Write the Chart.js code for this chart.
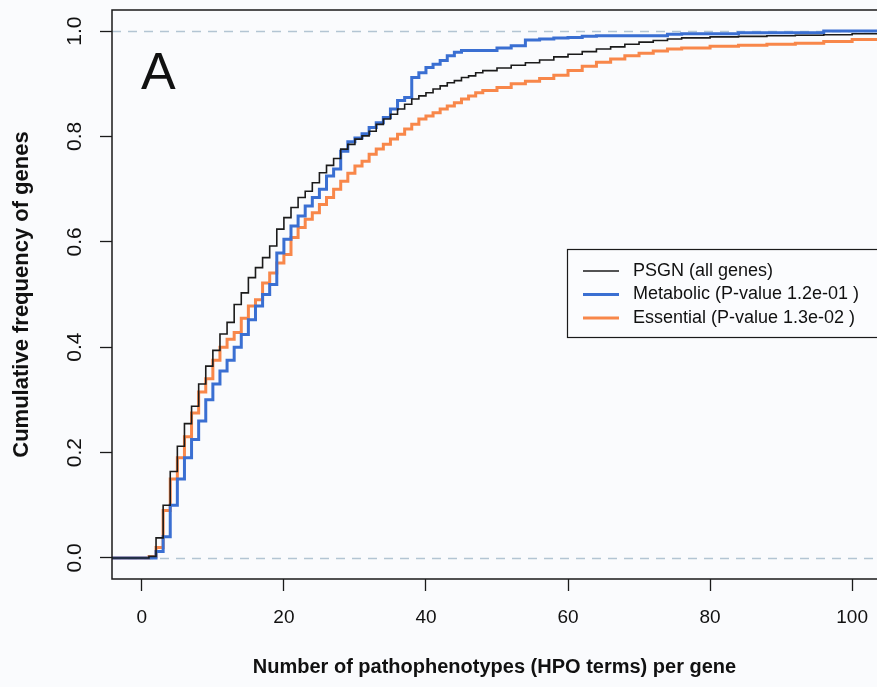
<!DOCTYPE html>
<html>
<head>
<meta charset="utf-8">
<script src="https://cdn.jsdelivr.net/npm/chart.js@4.4.0/dist/chart.umd.min.js"></script>
<style>
  html, body { margin: 0; padding: 0; background: #fafbfd; }
  canvas { display: block; }
</style>
</head>
<body>
<canvas id="ecdfChart" width="877" height="687"></canvas>
<script>
// Number of HPO terms per gene (x) and cumulative frequency of genes for each group
const terms = [-5,
  0, 1, 2, 3, 4, 5, 6, 7, 8, 9,
  10, 11, 12, 13, 14, 15, 16, 17, 18, 19,
  20, 21, 22, 23, 24, 25, 26, 27, 28, 29,
  30, 31, 32, 33, 34, 35, 36, 37, 38, 39,
  40, 41, 42, 43, 44, 45, 46, 47, 48,
  50, 52, 54, 56, 58, 60, 62, 64, 66, 68, 70, 72, 74, 76,
  80, 84, 88, 92, 96, 100, 104];

const psgn = [0,
  0, 0.003, 0.038, 0.10, 0.164, 0.212, 0.255, 0.288, 0.33, 0.364,
  0.394, 0.425, 0.447, 0.481, 0.503, 0.532, 0.551, 0.57, 0.592, 0.624,
  0.646, 0.665, 0.684, 0.696, 0.712, 0.731, 0.745, 0.758, 0.776, 0.785,
  0.795, 0.801, 0.81, 0.823, 0.833, 0.842, 0.852, 0.861, 0.871, 0.877,
  0.883, 0.89, 0.896, 0.902, 0.906, 0.912, 0.915, 0.921, 0.925,
  0.93, 0.935, 0.94, 0.945, 0.951, 0.956, 0.961, 0.966, 0.97, 0.975, 0.979, 0.982, 0.985, 0.987,
  0.989, 0.99, 0.991, 0.992, 0.993, 0.995, 0.997];

const metabolic = [0,
  0, 0, 0.012, 0.04, 0.10, 0.15, 0.19, 0.225, 0.26, 0.30,
  0.33, 0.355, 0.375, 0.40, 0.424, 0.452, 0.478, 0.50, 0.519, 0.579,
  0.605, 0.63, 0.649, 0.668, 0.684, 0.70, 0.725, 0.738, 0.772, 0.79,
  0.797, 0.805, 0.817, 0.826, 0.836, 0.852, 0.868, 0.874, 0.912, 0.921,
  0.931, 0.937, 0.944, 0.953, 0.96, 0.963, 0.963, 0.963, 0.963,
  0.968, 0.972, 0.983, 0.985, 0.987, 0.988, 0.99, 0.991, 0.991, 0.991, 0.991, 0.991, 0.994, 0.995,
  0.995, 0.997, 0.997, 0.997, 1, 1, 1];

const essential = [0,
  0, 0.002, 0.02, 0.09, 0.15, 0.19, 0.23, 0.275, 0.315, 0.34,
  0.375, 0.40, 0.415, 0.428, 0.455, 0.478, 0.49, 0.522, 0.541, 0.56,
  0.576, 0.608, 0.627, 0.643, 0.655, 0.671, 0.684, 0.70, 0.715, 0.73,
  0.744, 0.753, 0.766, 0.776, 0.785, 0.795, 0.804, 0.814, 0.823, 0.833,
  0.839, 0.845, 0.852, 0.858, 0.864, 0.871, 0.877, 0.883, 0.887,
  0.893, 0.9, 0.905, 0.91, 0.916, 0.925, 0.933, 0.941, 0.947, 0.953, 0.958, 0.962, 0.966, 0.968,
  0.971, 0.973, 0.975, 0.977, 0.98, 0.984, 0.989];

const seriesNames = ['PSGN (all genes)', 'Metabolic (P-value 1.2e-01 )', 'Essential (P-value 1.3e-02 )'];
const xTicks = [0, 20, 40, 60, 80, 100];
const yTicks = [0, 0.2, 0.4, 0.6, 0.8, 1.0];
const refLines = [0, 1];

const FONT = "'Liberation Sans', Arial, Helvetica, sans-serif";
const toPoints = ys => terms.map((x, i) => ({ x: x, y: ys[i] }));

// caixa do gráfico, linhas tracejadas, legenda e letra do painel
const decorations = {
  id: 'decorations',
  beforeDatasetsDraw(chart) {
    const { ctx, chartArea: a, scales: { y } } = chart;
    ctx.save();
    ctx.strokeStyle = '#b3c5d3';
    ctx.lineWidth = 1.3;
    ctx.setLineDash([9, 7]);
    refLines.forEach(v => {
      const py = Math.round(y.getPixelForValue(v)) + 0.5;
      ctx.beginPath();
      ctx.moveTo(a.left, py);
      ctx.lineTo(a.right, py);
      ctx.stroke();
    });
    ctx.restore();
  },
  afterDatasetsDraw(chart) {
    const { ctx, chartArea: a } = chart;
    ctx.save();
    // box (right side is cut off in the original)
    ctx.strokeStyle = '#1a1a1a';
    ctx.lineWidth = 1.5;
    ctx.beginPath();
    ctx.moveTo(a.right + 5, a.top);
    ctx.lineTo(a.left, a.top);
    ctx.lineTo(a.left, a.bottom);
    ctx.lineTo(a.right + 5, a.bottom);
    ctx.stroke();

    // panel letter
    ctx.fillStyle = '#111';
    ctx.font = '52px ' + FONT;
    ctx.textBaseline = 'alphabetic';
    ctx.fillText('A', 141, 89);

    // legend
    const lx = 567, ly = 249;
    ctx.fillStyle = '#fbfcfe';
    ctx.fillRect(lx, ly, 330, 88);
    ctx.lineWidth = 1.2;
    ctx.strokeStyle = '#1a1a1a';
    ctx.strokeRect(lx + 0.5, ly + 0.5, 330, 88);
    ctx.font = '18px ' + FONT;
    ctx.textBaseline = 'middle';
    chart.data.datasets.forEach((ds, i) => {
      const ry = ly + 22 + i * 23.5;
      ctx.strokeStyle = ds.borderColor;
      ctx.lineWidth = ds.borderWidth;
      ctx.beginPath();
      ctx.moveTo(lx + 16, ry);
      ctx.lineTo(lx + 52, ry);
      ctx.stroke();
      ctx.fillStyle = '#111';
      ctx.fillText(ds.label, lx + 66, ry);
    });
    ctx.restore();
  }
};

const ctx = document.getElementById('ecdfChart').getContext('2d');
new Chart(ctx, {
  type: 'line',
  data: {
    datasets: [
      { label: seriesNames[0], data: toPoints(psgn), borderColor: '#1b1b1b', borderWidth: 1.6 },
      { label: seriesNames[1], data: toPoints(metabolic), borderColor: '#3a6fd2', borderWidth: 3 },
      { label: seriesNames[2], data: toPoints(essential), borderColor: '#f8874a', borderWidth: 3 }
    ]
  },
  options: {
    responsive: false,
    animation: false,
    devicePixelRatio: 1,
    layout: { padding: { top: 10, right: 0, bottom: 0, left: 0 } },
    elements: {
      line: { stepped: 'before', tension: 0, fill: false },
      point: { radius: 0 }
    },
    plugins: {
      legend: { display: false },
      tooltip: { enabled: false }
    },
    scales: {
      x: {
        type: 'linear',
        min: -4.2,
        max: 103.5,
        afterBuildTicks: s => { s.ticks = xTicks.map(v => ({ value: v })); },
        afterFit: s => { s.height = 108; s.paddingLeft = 0; s.paddingRight = 0; },
        grid: { drawOnChartArea: false, drawTicks: true, tickLength: 12, tickColor: '#1a1a1a', tickWidth: 1.3 },
        border: { display: false },
        ticks: {
          color: '#111', padding: 15, maxRotation: 0, minRotation: 0,
          font: { size: 19, family: FONT },
          callback: v => String(v)
        },
        title: {
          display: true,
          text: 'Number of pathophenotypes (HPO terms) per gene',
          color: '#111',
          font: { size: 20, weight: 'bold', family: FONT },
          padding: { top: 0, bottom: 8 }
        }
      },
      y: {
        type: 'linear',
        min: -0.04,
        max: 1.04,
        afterBuildTicks: s => { s.ticks = yTicks.map(v => ({ value: v })); },
        afterFit: s => { s.width = 112; s.paddingTop = 0; s.paddingBottom = 0; },
        grid: { drawOnChartArea: false, drawTicks: true, tickLength: 12, tickColor: '#1a1a1a', tickWidth: 1.3 },
        border: { display: false },
        ticks: {
          color: '#111', padding: 10, minRotation: 90, maxRotation: 90, crossAlign: 'center',
          font: { size: 21, family: FONT },
          callback: v => v.toFixed(1)
        },
        title: {
          display: true,
          text: 'Cumulative frequency of genes',
          color: '#111',
          font: { size: 22, weight: 'bold', family: FONT },
          padding: { top: 9, bottom: 0 }
        }
      }
    }
  },
  plugins: [decorations]
});
</script>
</body>
</html>
